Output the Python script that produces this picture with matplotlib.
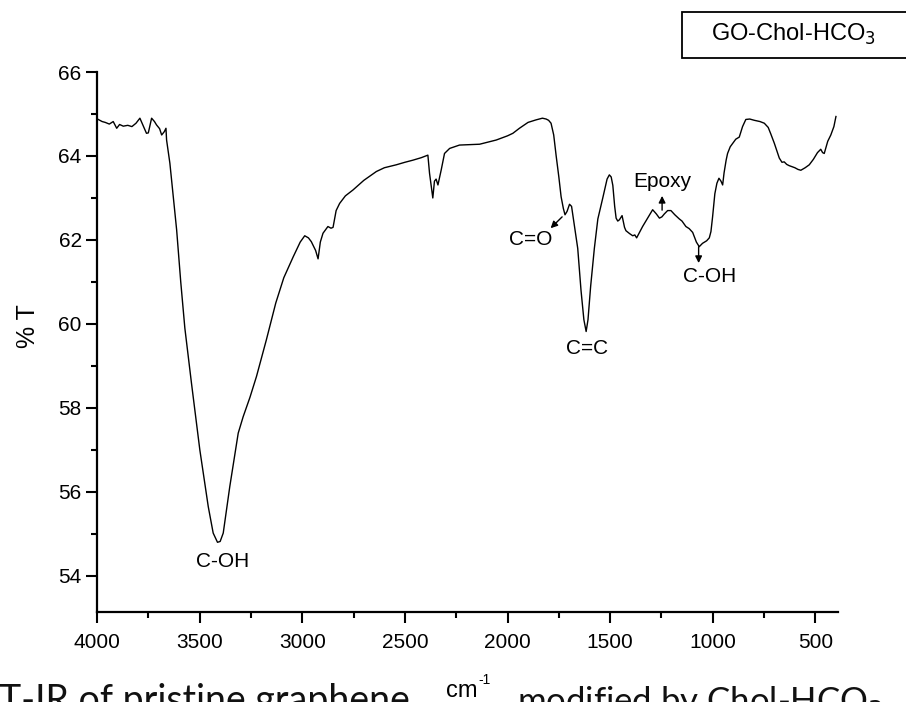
import matplotlib
matplotlib.use("Agg")
import matplotlib.pyplot as plt
from matplotlib.ticker import MultipleLocator
from matplotlib.patches import Rectangle

wavenumber = [3994, 3975, 3960, 3940, 3921, 3904, 3890, 3872, 3850, 3830, 3810, 3791, 3775, 3759,
              3750, 3734, 3720, 3710, 3695, 3685, 3672, 3664, 3661, 3645, 3630, 3612, 3592, 3572,
              3540, 3499, 3458, 3434, 3413, 3400, 3385, 3353, 3312, 3288, 3255, 3223, 3175, 3129,
              3090, 3044, 3010, 2988, 2970, 2956, 2935, 2923, 2912, 2899, 2875, 2860, 2850, 2835,
              2818, 2790, 2753, 2700, 2639, 2600, 2542, 2500, 2461, 2420, 2388, 2380, 2372, 2364,
              2356, 2348, 2339, 2323, 2307, 2282, 2234, 2136, 2055, 2000, 1974, 1942, 1900, 1861,
              1830, 1812, 1800, 1788, 1775, 1763, 1750, 1739, 1728, 1720, 1710, 1698, 1688, 1682,
              1670, 1658, 1642, 1628, 1617, 1608, 1595, 1577, 1560, 1536, 1515, 1504, 1495, 1487,
              1478, 1471, 1463, 1455, 1442, 1430, 1423, 1405, 1390, 1380, 1371, 1355, 1342, 1320,
              1293, 1275, 1260, 1248, 1236, 1220, 1204, 1185, 1163, 1150, 1131, 1115, 1098, 1080,
              1066, 1050, 1030, 1017, 1009, 1001, 990, 980, 970, 960, 952, 945, 935, 928, 915, 903,
              888, 871, 855, 839, 820, 798, 770, 749, 730, 717, 700, 676, 663, 652, 640, 628, 600,
              585, 571, 550, 530, 510, 490, 474, 465, 457, 440, 425, 410, 400]
transmittance = [64.87, 64.82, 64.80, 64.76, 64.82, 64.66, 64.75, 64.71, 64.73, 64.70, 64.78, 64.90,
                 64.72, 64.54, 64.55, 64.90, 64.82, 64.74, 64.65, 64.50, 64.58, 64.66, 64.38, 63.83,
                 63.10, 62.24, 61.00, 59.90, 58.60, 57.00, 55.65, 55.02, 54.80, 54.82, 55.02, 56.13,
                 57.40, 57.79, 58.25, 58.75, 59.62, 60.50, 61.10, 61.60, 61.95, 62.10, 62.05, 61.96,
                 61.75, 61.55, 61.95, 62.16, 62.32, 62.28, 62.30, 62.70, 62.87, 63.05, 63.19, 63.42,
                 63.63, 63.72, 63.79, 63.85, 63.90, 63.96, 64.02, 63.59, 63.30, 63.00, 63.40, 63.45,
                 63.31, 63.67, 64.06, 64.18, 64.26, 64.28, 64.38, 64.48, 64.54, 64.66, 64.80, 64.86,
                 64.90, 64.88, 64.85, 64.78, 64.50, 64.00, 63.50, 63.03, 62.75, 62.60, 62.68, 62.85,
                 62.80, 62.60, 62.20, 61.80, 60.80, 60.10, 59.82, 60.10, 60.90, 61.80, 62.50, 63.00,
                 63.45, 63.55, 63.50, 63.30, 62.80, 62.52, 62.45, 62.48, 62.58, 62.30, 62.22, 62.15,
                 62.10, 62.12, 62.05, 62.20, 62.32, 62.50, 62.72, 62.62, 62.52, 62.55, 62.62, 62.70,
                 62.70, 62.60, 62.50, 62.45, 62.32, 62.27, 62.18, 61.95, 61.84, 61.92, 61.98, 62.05,
                 62.20, 62.55, 63.10, 63.35, 63.47, 63.40, 63.31, 63.60, 63.90, 64.06, 64.22, 64.30,
                 64.40, 64.45, 64.70, 64.87, 64.88, 64.85, 64.82, 64.78, 64.68, 64.52, 64.30, 63.95,
                 63.85, 63.86, 63.80, 63.77, 63.72, 63.68, 63.66, 63.72, 63.79, 63.92, 64.08, 64.16,
                 64.08, 64.06, 64.35, 64.50, 64.70, 64.94]

x_ticks = [4000, 3500, 3000, 2500, 2000, 1500, 1000, 500]
y_ticks = [54, 56, 58, 60, 62, 64, 66]

peak_labels = ["C-OH", "C=C", "C=O", "Epoxy", "C-OH"]

sans = ["Liberation Sans", "DejaVu Sans"]
narrow = ["Liberation Sans Narrow", "Liberation Sans", "DejaVu Sans"]
plt.rcParams["font.family"] = sans

W, H = 906, 702
fig = plt.figure(figsize=(W / 100, H / 100), dpi=100)
ax = fig.add_axes([97 / W, 90 / H, 741 / W, 540 / H])

ax.plot(wavenumber, transmittance, color="black", lw=1.0)

ax.set_xlim(4000, 390)
ax.set_ylim(53.14, 66)
ax.set_xticks(x_ticks)
ax.set_yticks(y_ticks)
ax.xaxis.set_minor_locator(MultipleLocator(250))
ax.yaxis.set_minor_locator(MultipleLocator(1))
ax.tick_params(which="major", direction="out", length=8, width=1.5)
ax.tick_params(which="minor", direction="out", length=4.5, width=1.5)
ax.tick_params(axis="y", labelsize=15, pad=3)
ax.tick_params(axis="x", labelsize=15, pad=7)
for lbl in ax.get_xticklabels():
    lbl.set_family(narrow)
ax.spines["top"].set_visible(False)
ax.spines["right"].set_visible(False)
ax.spines["left"].set_linewidth(1.6)
ax.spines["bottom"].set_linewidth(1.6)

ax.set_ylabel("% T", fontsize=18)
ax.yaxis.set_label_coords(-0.077, 0.53)

fs = 15
ax.text(3390, 54.34, peak_labels[0], ha="center", va="center", fontsize=fs)
ax.text(1614, 59.42, peak_labels[1], ha="center", va="center", fontsize=fs)
ax.text(1885, 62.0, peak_labels[2], ha="center", va="center", fontsize=fs)
ax.text(1247, 63.39, peak_labels[3], ha="center", va="center", fontsize=fs)
ax.text(1017, 61.13, peak_labels[4], ha="center", va="center", fontsize=fs)

arrow = dict(arrowstyle="-|>,head_length=0.4,head_width=0.2", color="black", lw=1.0,
             shrinkA=0, shrinkB=0)
ax.annotate("", xy=(1790, 62.28), xytext=(1734, 62.55), arrowprops=arrow)
ax.annotate("", xy=(1247, 63.05), xytext=(1247, 62.71), arrowprops=arrow)
ax.annotate("", xy=(1069, 61.45), xytext=(1069, 61.84), arrowprops=arrow)

# legend-like label box (runs off the right edge as in the reference)
fig.patches.append(Rectangle((682 / W, 1 - 58 / H), 240 / W, 46 / H, transform=fig.transFigure,
                             facecolor="white", edgecolor="black", lw=1.3))
fig.text(793 / W, 1 - 34 / H, "GO-Chol-HCO$_3$", ha="center", va="center", fontsize=17)

# x-axis unit label
fig.text(462 / W, 1 - 697 / H, "cm", ha="center", va="baseline", fontsize=17)
fig.text(478 / W, 1 - 684 / H, "-1", ha="left", va="baseline", fontsize=10)

# figure caption, cut off by the image edge as in the reference
cap = ["Lato", "DejaVu Sans"]
fig.text(-22 / W, 1 - 712 / H, "FT-IR of pristine graphene", ha="left", va="baseline",
         fontsize=27, family=cap, color="#111111")
fig.text(517 / W, 1 - 712 / H, "modified by Chol-HCO$_3$", ha="left", va="baseline",
         fontsize=25, family=cap, color="#111111")

fig.savefig("out.png", dpi=100)
